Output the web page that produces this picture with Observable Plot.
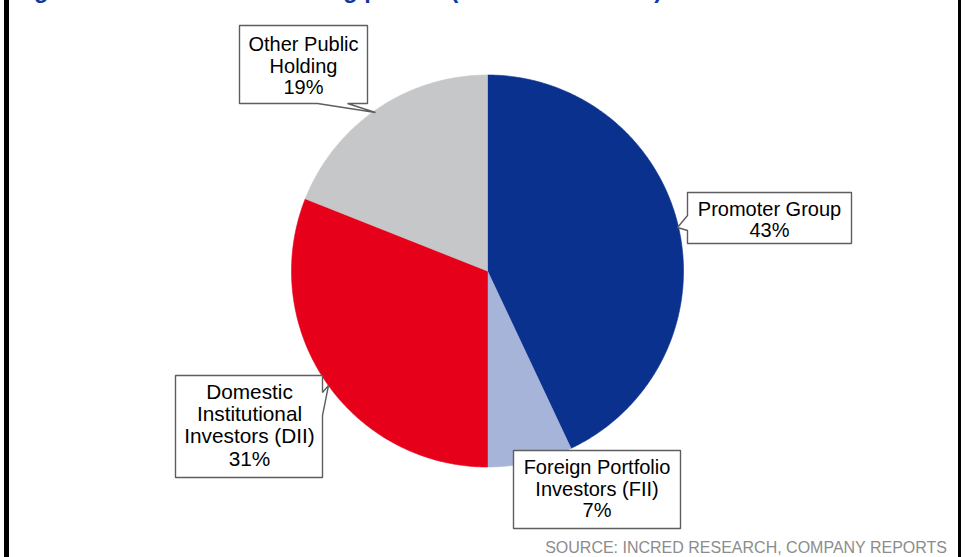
<!DOCTYPE html>
<html><head><meta charset="utf-8">
<script src="https://cdn.jsdelivr.net/npm/d3@7"></script>
<script src="https://cdn.jsdelivr.net/npm/@observablehq/plot@0.6"></script>
<style>
body{margin:0;background:#fff;font-family:Arial,"Liberation Sans",sans-serif;}
#wrap{position:relative;width:966px;height:557px;overflow:hidden;background:#fff;}
#title{position:absolute;left:13px;top:-21.5px;font-size:23.5px;line-height:23.5px;font-weight:bold;color:#0d3b9e;white-space:nowrap;}
.bar{position:absolute;top:0;height:557px;background:#000;}
#chart{position:absolute;left:0;top:0;}
#source{position:absolute;right:19px;top:539px;font-size:16px;line-height:17px;color:#8c8c8c;white-space:nowrap;}
</style>
</head><body>
<div id="wrap">
  <div id="title">Figure 7: Current shareholding pattern (as of 31 Dec 2023)</div>
  <div id="chart"></div>
  <div id="source">SOURCE: INCRED RESEARCH, COMPANY REPORTS</div>
  <div class="bar" style="left:4px;width:5px"></div>
  <div class="bar" style="left:958px;width:3px"></div>
</div>
<script>
// ---- data ----
const categories = ["Promoter Group", "Foreign Portfolio Investors (FII)", "Domestic Institutional Investors (DII)", "Other Public Holding"];
const shares = [43, 7, 31, 19];
const labelText = ["Promoter Group", "Foreign Portfolio\nInvestors (FII)", "Domestic\nInstitutional\nInvestors (DII)", "Other Public\nHolding"];
const colors = ["#0b318f", "#a7b4da", "#e60019", "#c6c7c9"];

// ---- layout (pixels) ----
const W = 966, H = 536, CX = 487, CY = 270.5, R = 196;
const toX = px => (px - CX) / R;
const toY = py => (CY - py) / R;
const callouts = [
  { // Promoter
    poly: [[687,192],[851,192],[851,243],[687,243],[687,230],[677,227],[687,215]],
    tx: 769, ty: 219, fs: 20, lh: 21.3
  },
  { // FII
    poly: [[513,450],[680,450],[680,528],[513,528]],
    tx: 596.5, ty: 488.5, fs: 20, lh: 21.5
  },
  { // DII
    poly: [[175,375],[322,375],[322,392],[328,385],[322,415],[322,477],[175,477]],
    tx: 249, ty: 424.5, fs: 20.8, lh: 22.4
  },
  { // Other
    poly: [[239,25],[367,25],[367,103],[347,103],[375,112],[317,103],[239,103]],
    tx: 303, ty: 65.3, fs: 20, lh: 21.3
  }
];

const arcs = d3.pie().sort(null).value(d => d)(shares);
const marks = [];
arcs.forEach((a, i) => {
  const pts = [{x: 0, y: 0}];
  const n = Math.max(2, Math.ceil((a.endAngle - a.startAngle) / 0.01));
  for (let k = 0; k <= n; k++) {
    const t = a.startAngle + (a.endAngle - a.startAngle) * k / n;
    pts.push({x: Math.sin(t), y: Math.cos(t)});
  }
  pts.push({x: 0, y: 0});
  marks.push(Plot.line(pts, {x: "x", y: "y", fill: colors[i], stroke: colors[i], strokeWidth: 0.6, curve: "linear"}));
});
callouts.forEach((c, i) => {
  const pts = c.poly.concat([c.poly[0]]).map(([px, py]) => ({x: toX(px), y: toY(py)}));
  marks.push(Plot.line(pts, {x: "x", y: "y", fill: "#ffffff", stroke: "#5e5e5e", strokeWidth: 1.4, strokeLinejoin: "miter"}));
  marks.push(Plot.text([{x: toX(c.tx), y: toY(c.ty), t: labelText[i] + "\n" + shares[i] + "%"}], {
    x: "x", y: "y", text: "t", fontSize: c.fs, lineHeight: c.lh / c.fs, fill: "#000",
    textAnchor: "middle", lineAnchor: "middle", fontFamily: "Arial, 'Liberation Sans', sans-serif"
  }));
});

const chart = Plot.plot({
  width: W, height: H, margin: 0,
  x: {domain: [toX(0), toX(W)], axis: null},
  y: {domain: [toY(H), toY(0)], axis: null},
  style: {background: "transparent", overflow: "visible"},
  marks
});
document.getElementById("chart").appendChild(chart);
</script>
</body></html>
